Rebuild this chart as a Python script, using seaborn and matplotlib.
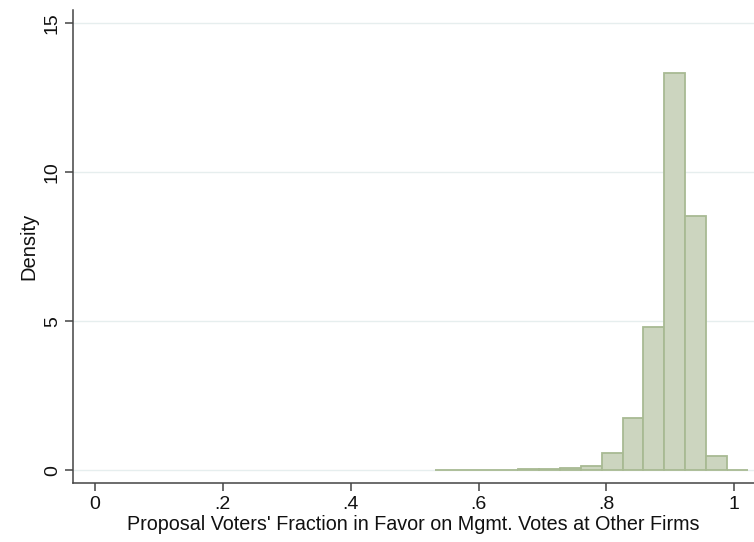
import numpy as np
import pandas as pd
import seaborn as sns
import matplotlib
matplotlib.use("Agg")
import matplotlib.pyplot as plt

# Histogram of the fraction in favor (density per bin)
bin_start = 0.5316
bin_width = 0.03265
density = [0.03, 0.03, 0.03, 0.03, 0.04, 0.05, 0.09, 0.15,
           0.60, 1.75, 4.82, 13.33, 8.55, 0.47, 0.02]

x_ticks = [0, 0.2, 0.4, 0.6, 0.8, 1.0]
x_tick_labels = ["0", ".2", ".4", ".6", ".8", "1"]
y_ticks = [0, 5, 10, 15]
y_tick_labels = ["0", "5", "10", "15"]

edges = [bin_start + bin_width * i for i in range(len(density) + 1)]
centers = [(a + b) / 2 for a, b in zip(edges[:-1], edges[1:])]
df = pd.DataFrame({"fraction": centers, "density": density})

sns.set_theme(style="white")
plt.rcParams["font.family"] = ["Liberation Sans", "DejaVu Sans"]

fig = plt.figure(figsize=(7.54, 5.42), dpi=100)
ax = fig.add_axes([0.0964, 0.1083, 0.9036, 0.8732])

for y in y_ticks:
    ax.axhline(y, color="#e6eeee", lw=1.0, zorder=0)

sns.histplot(data=df, x="fraction", weights="density", bins=edges,
             stat="count", color="#ccd5bf", edgecolor="#a8ba93",
             linewidth=1.3, alpha=1.0, ax=ax, zorder=2)

ax.set_xlim(-0.0349, 1.031)
ax.set_ylim(-0.43, 15.45)
ax.set_xticks(x_ticks)
ax.set_xticklabels(x_tick_labels)
ax.set_yticks(y_ticks)
ax.set_yticklabels(y_tick_labels, rotation=90, va="center")

ax.tick_params(axis="both", direction="out", length=5.5, width=1.1,
               color="#444444", labelsize=14, labelcolor="#111111")
ax.tick_params(axis="x", pad=4)
ax.tick_params(axis="y", pad=3)
ax.tick_params(bottom=True, left=True)

for side in ["top", "right"]:
    ax.spines[side].set_visible(False)
for side in ["left", "bottom"]:
    ax.spines[side].set_color("#444444")
    ax.spines[side].set_linewidth(1.1)

ax.set_xlabel("Proposal Voters' Fraction in Favor on Mgmt. Votes at Other Firms",
              fontsize=14.2, color="#111111", labelpad=1)
ax.set_ylabel("Density", fontsize=14.5, color="#111111", labelpad=4)

fig.savefig("out.png", dpi=100)
